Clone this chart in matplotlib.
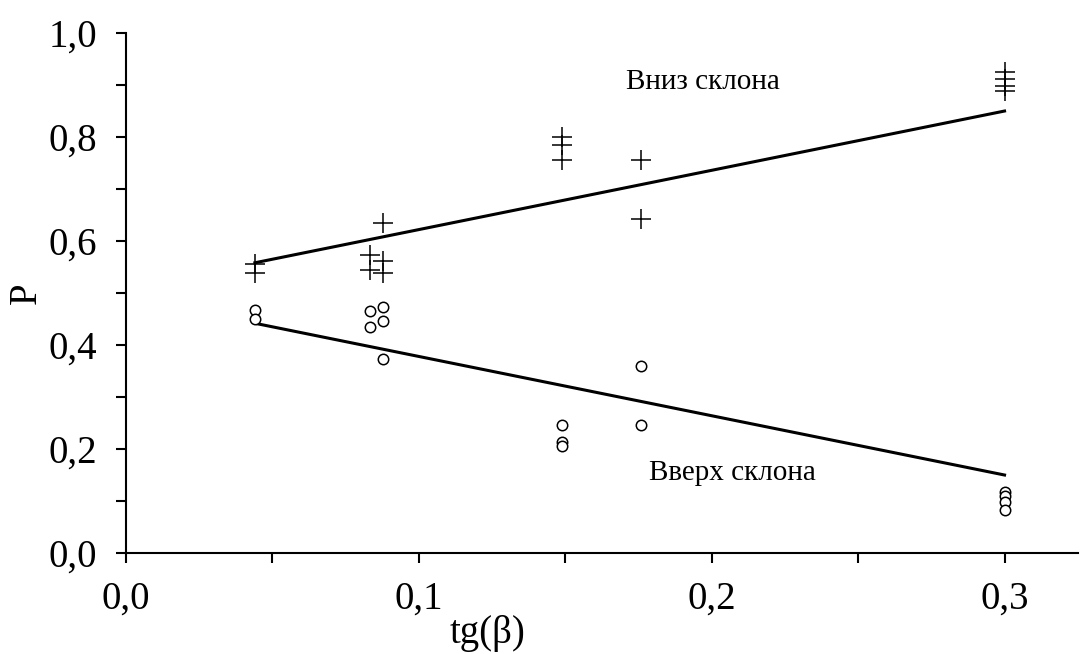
import numpy as np
import matplotlib
matplotlib.use('Agg')
import matplotlib.pyplot as plt
from matplotlib.ticker import MultipleLocator, FuncFormatter

plt.rcParams['font.family'] = ['Liberation Serif', 'DejaVu Serif']

# slope values and measured probabilities
x_down = [0.044, 0.044, 0.0833, 0.0833, 0.0877, 0.0877, 0.0877,
          0.1488, 0.1488, 0.1488, 0.176, 0.176,
          0.300, 0.300, 0.300, 0.300]
p_down = [0.556, 0.538, 0.573, 0.544, 0.635, 0.562, 0.538,
          0.800, 0.785, 0.755, 0.755, 0.642,
          0.925, 0.912, 0.898, 0.888]

x_up = [0.044, 0.044, 0.0833, 0.0833, 0.0877, 0.0877, 0.0877,
        0.1488, 0.1488, 0.1488, 0.176, 0.176,
        0.300, 0.300, 0.300, 0.300]
p_up = [0.468, 0.451, 0.465, 0.435, 0.473, 0.446, 0.373,
        0.247, 0.213, 0.205, 0.360, 0.247,
        0.117, 0.110, 0.098, 0.083]

# linear fits P = a + b*tg(beta); upslope is the complement
fit_down = (0.508, 1.14)
fit_up = (0.492, -1.14)
fit_range = (0.044, 0.300)

fig = plt.figure(figsize=(10.81, 6.54), dpi=100)
ax = fig.add_axes([0.1166, 0.1544, 0.8804, 0.7951])

xx = np.array(fit_range)
ax.plot(xx, fit_down[0] + fit_down[1] * xx, color='black', lw=2.2, zorder=2)
ax.plot(xx, fit_up[0] + fit_up[1] * xx, color='black', lw=2.2, zorder=2)

ax.plot(x_down, p_down, ls='none', marker='+', ms=14, mew=1.1, color='black', zorder=3)
ax.plot(x_up, p_up, ls='none', marker='o', ms=7.5, mew=1.1, mfc='white', mec='black', zorder=3)

ax.text(0.197, 0.905, 'Вниз склона', fontsize=21, ha='center', va='center')
ax.text(0.207, 0.153, 'Вверх склона', fontsize=21, ha='center', va='center')

ax.set_xlim(0, 0.325)
ax.set_ylim(0, 1.0)
ax.xaxis.set_major_locator(MultipleLocator(0.1))
ax.xaxis.set_minor_locator(MultipleLocator(0.05))
ax.yaxis.set_major_locator(MultipleLocator(0.2))
ax.yaxis.set_minor_locator(MultipleLocator(0.1))
comma = FuncFormatter(lambda v, pos: ('%.1f' % v).replace('.', ','))
ax.xaxis.set_major_formatter(comma)
ax.yaxis.set_major_formatter(comma)

for s in ['top', 'right']:
    ax.spines[s].set_visible(False)
for s in ['left', 'bottom']:
    ax.spines[s].set_linewidth(1.5)
ax.tick_params(which='both', direction='out', length=7, width=1.5, labelsize=28)
ax.tick_params(axis='x', pad=13)
ax.tick_params(axis='y', pad=14)

ax.set_xlabel('tg(β)', fontsize=28, labelpad=0)
ax.xaxis.set_label_coords(0.38, -0.12)
ax.set_ylabel('P', fontsize=28)
ax.yaxis.set_label_coords(-0.085, 0.5)

fig.savefig('out.png', dpi=100)
